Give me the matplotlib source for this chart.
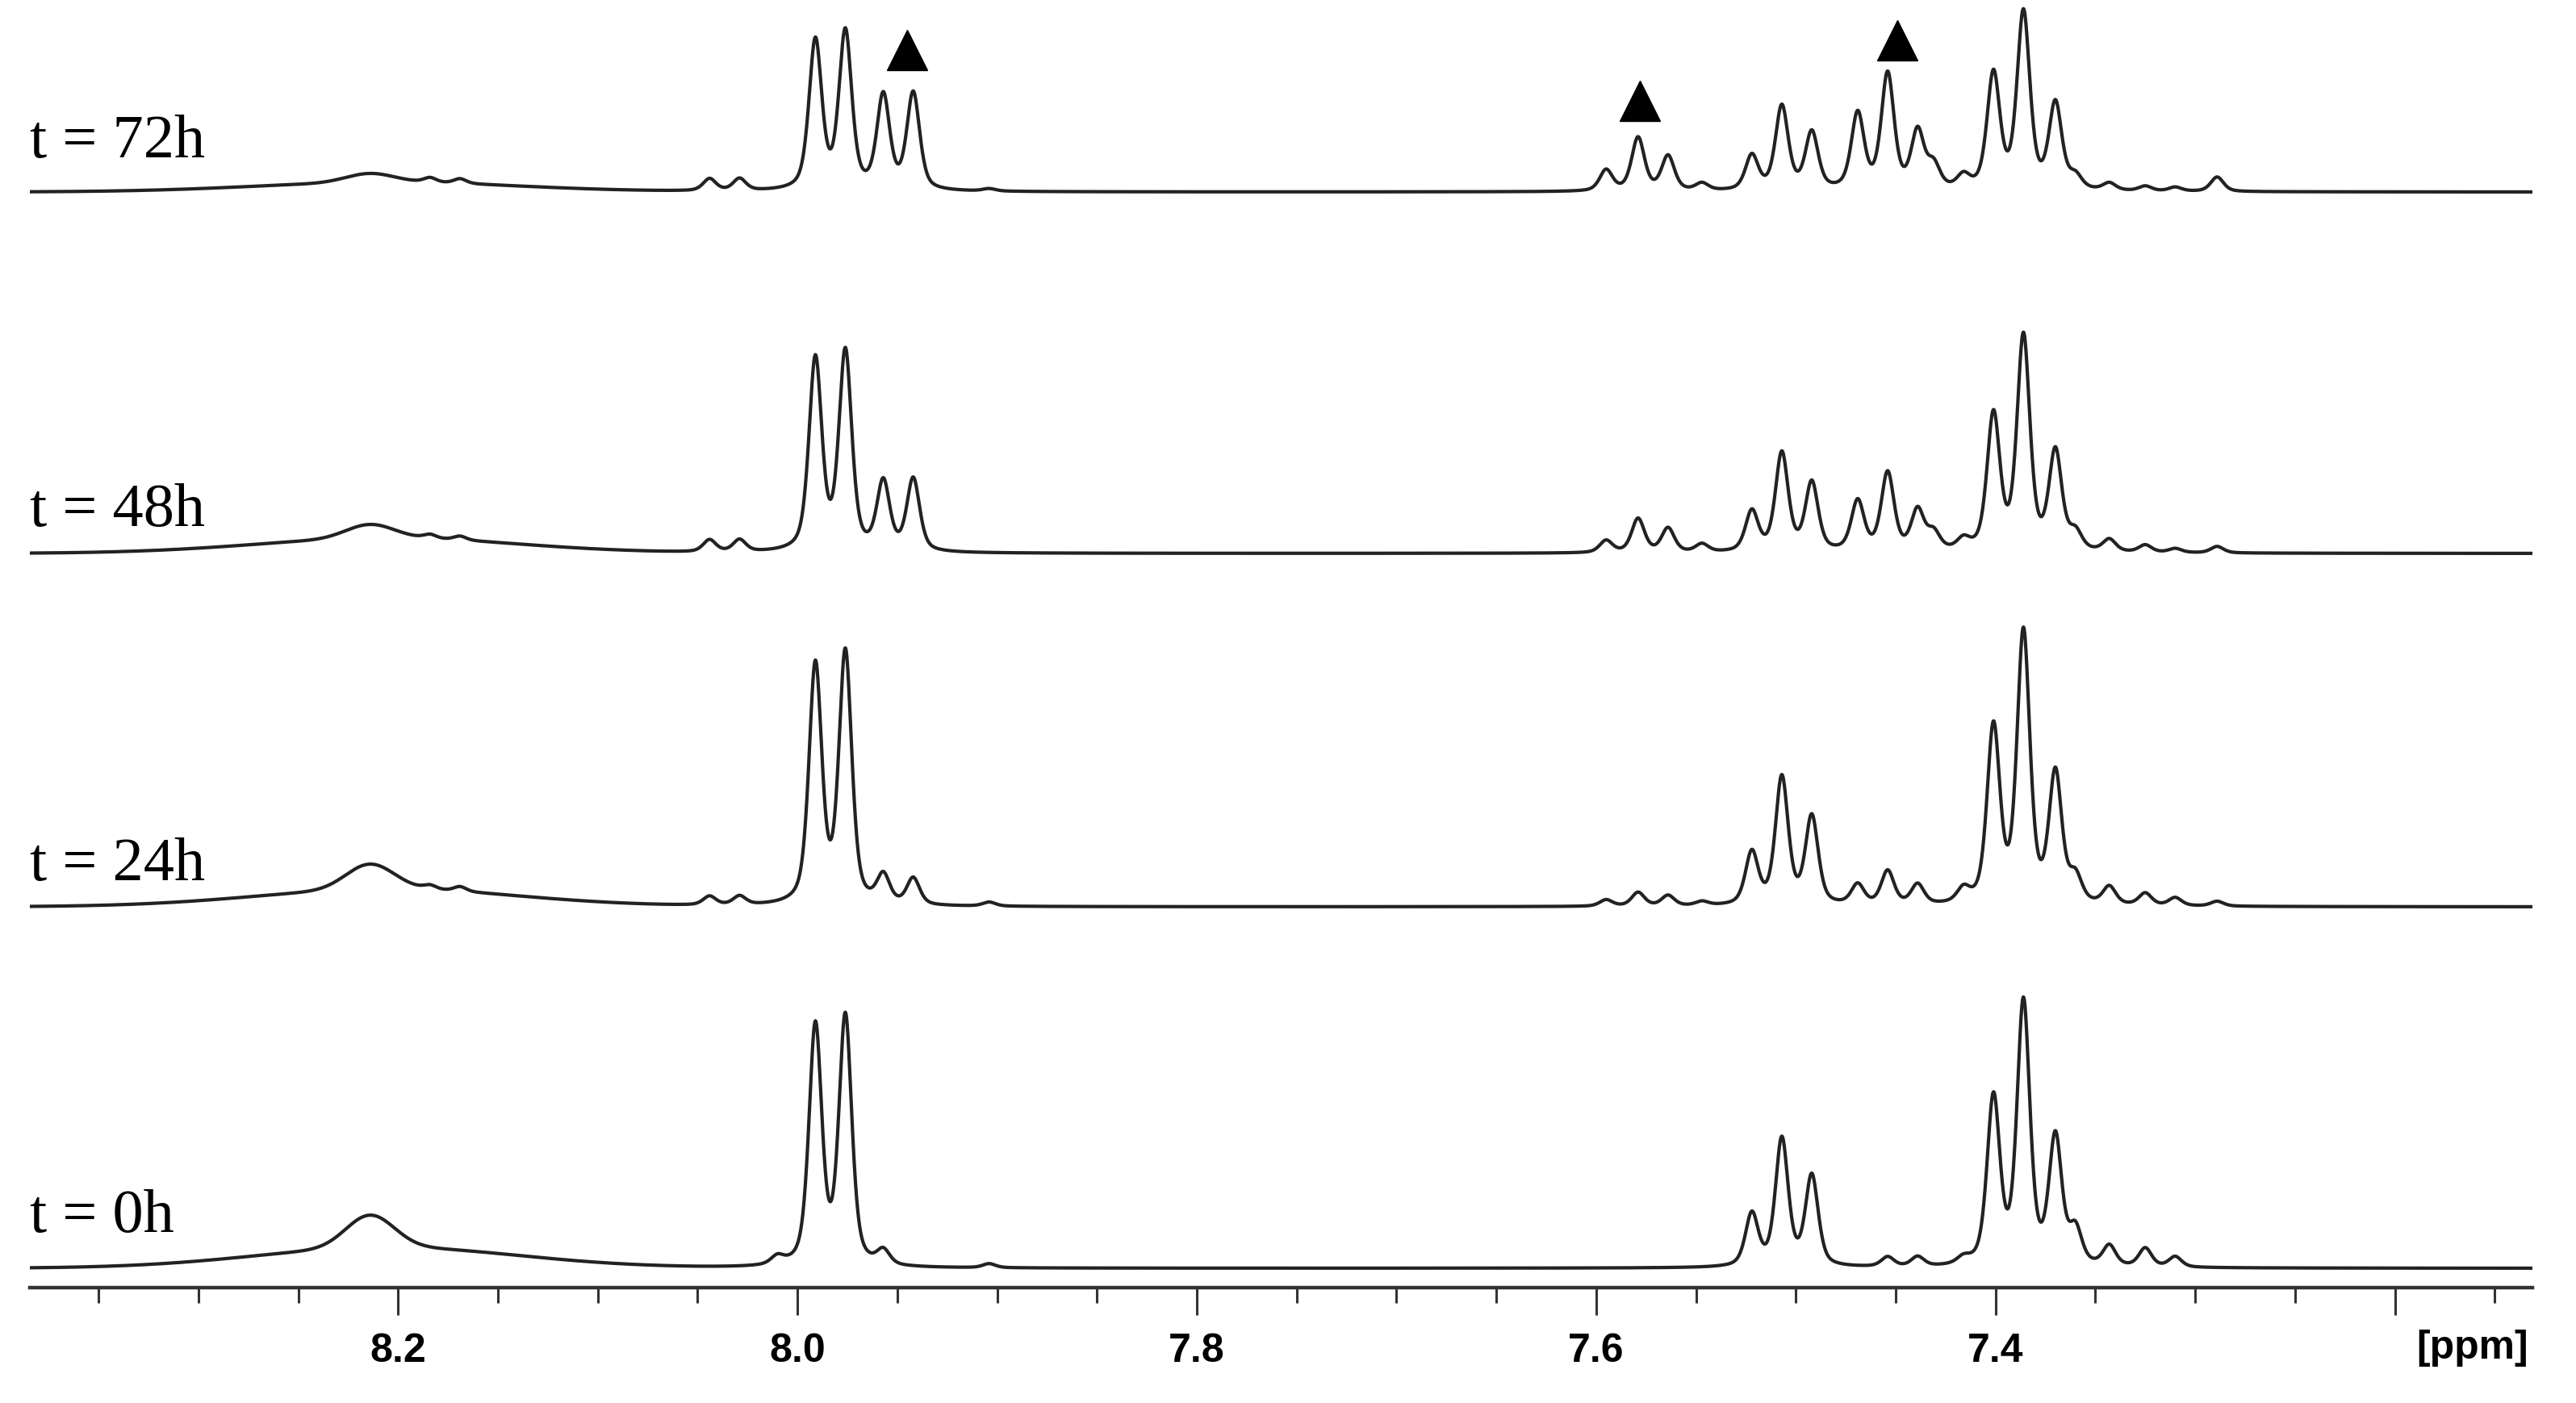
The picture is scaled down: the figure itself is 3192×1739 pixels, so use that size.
import numpy as np
import matplotlib.pyplot as plt
from matplotlib.ticker import MultipleLocator, FixedLocator, FuncFormatter
import matplotlib.transforms as mtransforms

# time points of the stacked 1H NMR spectra
labels = ["t = 0h", "t = 24h", "t = 48h", "t = 72h"]

# line positions (ppm) shared by all spectra
line_ppm = [8.044, 8.029, 8.010, 7.991, 7.976, 7.957, 7.942, 7.904,
            7.595, 7.579, 7.564, 7.547, 7.522, 7.507, 7.492,
            7.469, 7.454, 7.439, 7.431, 7.416,
            7.401, 7.386, 7.370, 7.360, 7.343, 7.325, 7.310, 7.289,
            8.184, 8.169]

# peak heights, one list per spectrum
h_0h = [0, 0, 10, 297, 308, 18, 0, 5,
        0, 0, 0, 0, 65, 158, 112,
        0, 12, 12, 0, 8,
        207, 325, 157, 43, 25, 23, 13, 0,
        0, 0]
h_24h = [11, 11, 0, 296, 311, 35, 33, 5,
         8, 17, 13, 5, 65, 158, 109,
         25, 42, 25, 0, 17,
         218, 335, 160, 32, 22, 15, 10, 6,
         5, 6]
h_48h = [15, 15, 0, 238, 246, 85, 90, 0,
         15, 42, 30, 10, 50, 122, 85,
         62, 97, 50, 22, 13,
         168, 265, 122, 22, 15, 9, 5, 8,
         5, 5]
h_72h = [15, 15, 0, 185, 195, 116, 120, 3,
         26, 66, 43, 9, 43, 104, 71,
         94, 143, 71, 29, 16,
         143, 219, 106, 16, 9, 6, 5, 18,
         6, 6]
heights = [h_0h, h_24h, h_48h, h_72h]

# broad NH hump near 8.21 ppm (narrow part + wide part)
hump_narrow = [40, 31, 17, 11]
hump_broad = [26, 22, 19, 12]

# new signals marked with triangles (ppm, height above the 72h trace)
tri_ppm = [7.945, 7.578, 7.449]
tri_y = [176, 113, 188]

fwhm = 0.0076


def spectrum(x, h, hn, hb):
    y = np.zeros_like(x)
    g = fwhm / 2
    s = fwhm / 2.355
    for p, a in zip(line_ppm, h):
        d = x - p
        y += a * (0.5 / (1 + (d / g) ** 2) + 0.5 * np.exp(-0.5 * (d / s) ** 2))
    y += hn * np.exp(-0.5 * ((x - 8.214) / 0.012) ** 2)
    y += hb * np.exp(-0.5 * ((x - 8.205) / 0.065) ** 2)
    return y


fig = plt.figure(figsize=(31.92, 17.39), dpi=100)
ax = fig.add_axes([37 / 3192, 143 / 1739, 3101 / 3192, 1596 / 1739])

x = np.linspace(8.3844, 7.1311, 6000)
offsets = [24, 472, 910, 1358]
label_dy = [45, 33, 34, 43]

for i in range(4):
    y = spectrum(x, heights[i], hump_narrow[i], hump_broad[i])
    ax.plot(x, y + offsets[i], color="#222222", lw=3.0)
    ax.text(0.0, offsets[i] + label_dy[i], labels[i],
            transform=mtransforms.blended_transform_factory(ax.transAxes, ax.transData),
            fontsize=55, family="Liberation Serif", va="baseline", ha="left")

ax.plot(tri_ppm, np.array(tri_y) + offsets[3], linestyle="none",
        marker="^", markersize=36, color="black")

ax.set_xlim(8.3844, 7.1311)
ax.set_ylim(0, 1596)

for s in ["left", "right", "top"]:
    ax.spines[s].set_visible(False)
ax.spines["bottom"].set_linewidth(3.2)
ax.spines["bottom"].set_color("#333333")
ax.set_yticks([])

ax.xaxis.set_major_locator(FixedLocator([8.2, 8.0, 7.8, 7.6, 7.4, 7.2]))
ax.xaxis.set_minor_locator(MultipleLocator(0.05))
ax.xaxis.set_major_formatter(FuncFormatter(lambda v, p: "" if abs(v - 7.2) < 1e-6 else "%.1f" % v))
ax.tick_params(axis="x", which="major", direction="out", length=24.5, width=2.2,
               color="#333333", pad=16)
ax.tick_params(axis="x", which="minor", direction="out", length=13.7, width=2.2,
               color="#333333")
for lab in ax.get_xticklabels():
    lab.set_fontfamily("Liberation Sans")
    lab.set_fontweight("bold")
    lab.set_fontsize(36)

ax.text(1 - 5 / 3101, -75, "[ppm]", transform=mtransforms.blended_transform_factory(ax.transAxes, ax.transData),
        ha="right", va="center", fontsize=36, family="Liberation Sans", fontweight="bold")

fig.savefig("out.png", dpi=100, facecolor="white")
